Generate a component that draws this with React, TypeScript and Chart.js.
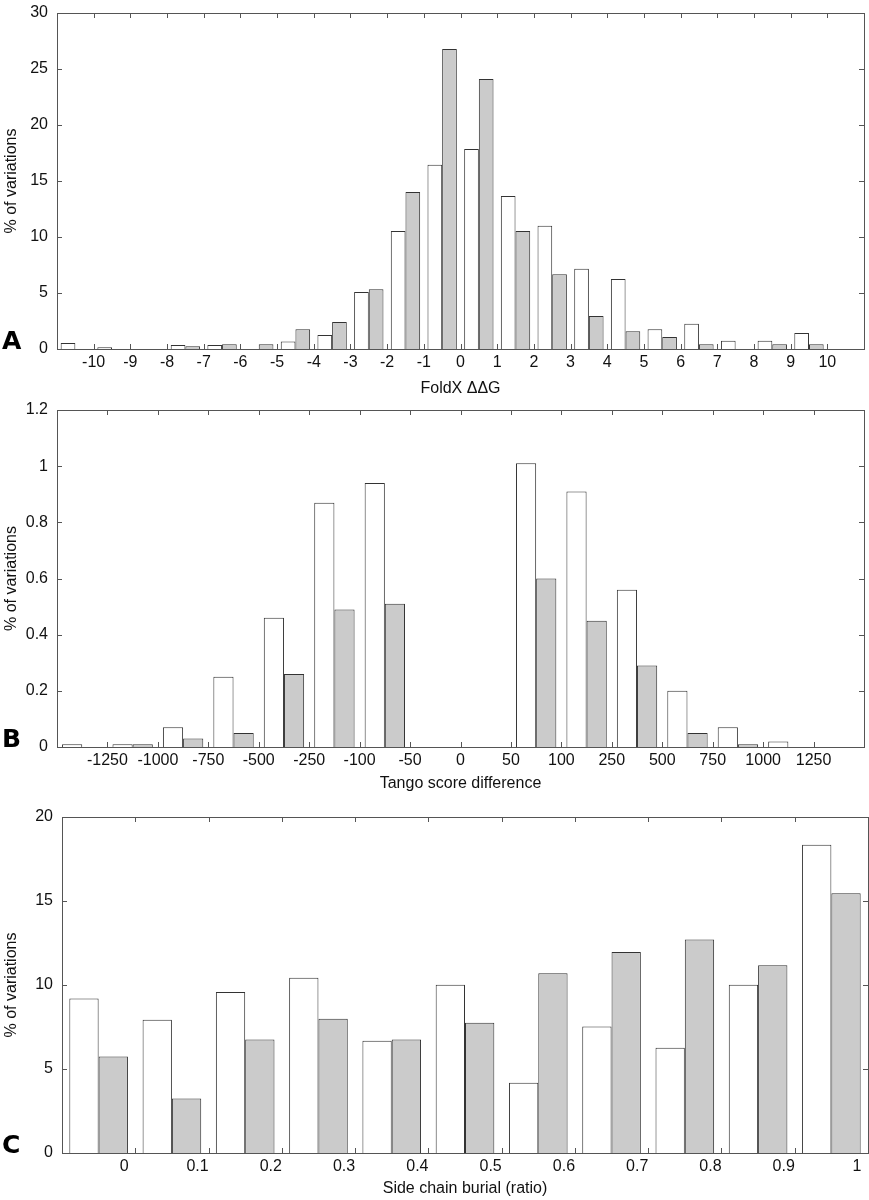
import React, { useEffect, useRef } from "react";
import { Chart, registerables } from "chart.js";

Chart.register(...registerables);

// ---------- Panel A: FoldX ΔΔG ----------
const foldxTickLabels = ["-10", "-9", "-8", "-7", "-6", "-5", "-4", "-3", "-2", "-1", "0", "1", "2", "3", "4", "5", "6", "7", "8", "9", "10"];
const foldxWhite = [0.54, 0.15, 0, 0.36, 0.36, 0, 0.68, 1.25, 5.09, 10.54, 16.46, 17.86, 13.66, 11.0, 7.17, 6.25, 1.76, 2.26, 0.74, 0.74, 1.43, 0];
const foldxGray = [0, 0, 0, 0.24, 0.42, 0.42, 1.76, 2.41, 5.33, 14.02, 26.79, 24.1, 10.54, 6.67, 2.95, 1.58, 1.07, 0.42, 0, 0.42, 0.42, 0];

// ---------- Panel B: Tango score difference ----------
const tangoTickLabels = ["-1250", "-1000", "-750", "-500", "-250", "-100", "-50", "0", "50", "100", "250", "500", "750", "1000", "1250"];
const tangoWhite = [0.01, 0.01, 0.07, 0.25, 0.46, 0.87, 0.94, 0, 0, 1.01, 0.91, 0.56, 0.2, 0.07, 0.02, 0];
const tangoGray = [0, 0.01, 0.03, 0.05, 0.26, 0.49, 0.51, 0, 0, 0.6, 0.45, 0.29, 0.05, 0.01, 0, 0];

// ---------- Panel C: Side chain burial ----------
const burialTickLabels = ["0", "0.1", "0.2", "0.3", "0.4", "0.5", "0.6", "0.7", "0.8", "0.9", "1"];
const burialWhite = [9.2, 7.93, 9.59, 10.43, 6.68, 10.01, 4.18, 7.53, 6.26, 10.01, 18.35];
const burialGray = [5.75, 3.25, 6.76, 7.99, 6.76, 7.75, 10.7, 11.97, 12.71, 11.18, 15.46];

const FONT = '"Liberation Sans", Arial, Helvetica, sans-serif';
const FS = 16;
const W = 869;

const framePlugin = {
  id: "frame",
  afterDatasetsDraw(chart: any) {
    const { ctx, chartArea } = chart;
    const { left, right, top, bottom } = chartArea;
    const xs = chart.scales.x;
    const ys = chart.scales.y;
    const tl = 5;
    ctx.save();
    ctx.strokeStyle = "#555555";
    ctx.lineWidth = 1;
    ctx.beginPath();
    xs.ticks.forEach((t: any) => {
      const px = Math.round(xs.getPixelForValue(t.value)) + 0.5;
      if (px < left + 2 || px > right - 2) return;
      ctx.moveTo(px, bottom);
      ctx.lineTo(px, bottom - tl);
      ctx.moveTo(px, top);
      ctx.lineTo(px, top + tl);
    });
    ys.ticks.forEach((t: any) => {
      const py = Math.round(ys.getPixelForValue(t.value)) + 0.5;
      if (py < top + 2 || py > bottom - 2) return;
      ctx.moveTo(left, py);
      ctx.lineTo(left + tl, py);
      ctx.moveTo(right, py);
      ctx.lineTo(right - tl, py);
    });
    ctx.stroke();
    ctx.strokeRect(Math.round(left) + 0.5, Math.round(top) + 0.5, Math.round(right - left), Math.round(bottom - top));
    ctx.restore();
  },
  afterDraw(chart: any, _args: any, opts: any) {
    const { ctx, chartArea } = chart;
    if (!opts || !opts.letter) return;
    ctx.save();
    ctx.fillStyle = "#000";
    ctx.font = 'bold 25px "DejaVu Sans", "Liberation Sans", sans-serif';
    ctx.textBaseline = "alphabetic";
    ctx.textAlign = "left";
    ctx.fillText(opts.letter, 2, chartArea.bottom);
    ctx.restore();
  },
};

type PanelProps = {
  top: number;
  height: number;
  left: number;
  right: number;
  plotBottom: number;
  tickLabels: string[];
  white: number[];
  gray: number[];
  yMax: number;
  yStep: number;
  xTitle: string;
  letter: string;
  titlePadBottom: number;
  labelOffset: number;
};

function Panel(p: PanelProps) {
  const ref = useRef<HTMLCanvasElement | null>(null);
  useEffect(() => {
    if (!ref.current) return;
    const nBins = p.white.length;
    const chart = new Chart(ref.current, {
      type: "bar",
      data: {
        datasets: [
          {
            data: p.white.map((v, i) => ({ x: i + 0.5, y: v })),
            backgroundColor: "#ffffff",
            borderColor: "#333333",
            borderWidth: 1,
            categoryPercentage: 0.8,
            barPercentage: 1.0,
          },
          {
            data: p.gray.map((v, i) => ({ x: i + 0.5, y: v })),
            backgroundColor: "#cbcbcb",
            borderColor: "#333333",
            borderWidth: 1,
            categoryPercentage: 0.8,
            barPercentage: 1.0,
          },
        ],
      },
      options: {
        animation: false,
        responsive: false,
        maintainAspectRatio: false,
        layout: { padding: { top: 13, left: 0, right: W - p.right, bottom: 0 } },
        plugins: {
          legend: { display: false },
          tooltip: { enabled: false },
          frame: { letter: p.letter },
        } as any,
        scales: {
          x: {
            type: "linear",
            offset: false,
            min: 0,
            max: nBins,
            grid: { display: false, drawTicks: false, offset: false },
            border: { display: false },
            afterBuildTicks: (scale: any) => {
              scale.ticks = p.tickLabels.map((_, i) => ({ value: i + 1 }));
            },
            afterFit: (scale: any) => {
              scale.height = p.height - p.plotBottom;
              scale.paddingLeft = 0;
              scale.paddingRight = 0;
            },
            ticks: {
              autoSkip: false,
              maxRotation: 0,
              minRotation: 0,
              padding: 4,
              labelOffset: p.labelOffset,
              color: "#111",
              font: { family: FONT, size: FS },
              callback: (_v: any, i: number) => p.tickLabels[i],
            },
            title: {
              display: true,
              text: p.xTitle,
              color: "#111",
              font: { family: FONT, size: FS },
              padding: { top: 0, bottom: p.titlePadBottom },
            },
          },
          y: {
            type: "linear",
            min: 0,
            max: p.yMax,
            grid: { display: false, drawTicks: false },
            border: { display: false },
            afterFit: (scale: any) => {
              scale.width = p.left;
              scale.paddingTop = 0;
              scale.paddingBottom = 0;
            },
            ticks: {
              stepSize: p.yStep,
              padding: 9,
              color: "#111",
              font: { family: FONT, size: FS },
              callback: (v: any) => String(Math.round(Number(v) * 100) / 100),
            },
            title: {
              display: true,
              text: "% of variations",
              color: "#111",
              font: { family: FONT, size: FS },
              padding: { top: 2, bottom: 0 },
            },
          },
        },
      } as any,
      plugins: [framePlugin as any],
    });
    return () => chart.destroy();
  }, []);
  return (
    <canvas
      ref={ref}
      width={W}
      height={p.height}
      style={{ position: "absolute", left: 0, top: p.top, width: W, height: p.height, display: "block" }}
    />
  );
}

export default function App() {
  return (
    <div style={{ position: "absolute", left: 0, top: 0, width: W, height: 1200, background: "#fff", overflow: "hidden" }}>
      <Panel
        top={0}
        height={400}
        left={57}
        right={864}
        plotBottom={349}
        tickLabels={foldxTickLabels}
        white={foldxWhite}
        gray={foldxGray}
        yMax={30}
        yStep={5}
        xTitle="FoldX ΔΔG"
        letter="A"
        titlePadBottom={2}
        labelOffset={0}
      />
      <Panel
        top={397}
        height={400}
        left={57}
        right={864}
        plotBottom={350}
        tickLabels={tangoTickLabels}
        white={tangoWhite}
        gray={tangoGray}
        yMax={1.2}
        yStep={0.2}
        xTitle="Tango score difference"
        letter="B"
        titlePadBottom={4}
        labelOffset={0}
      />
      <Panel
        top={804}
        height={396}
        left={62}
        right={868}
        plotBottom={349}
        tickLabels={burialTickLabels}
        white={burialWhite}
        gray={burialGray}
        yMax={20}
        yStep={5}
        xTitle="Side chain burial (ratio)"
        letter="C"
        titlePadBottom={2}
        labelOffset={-11}
      />
    </div>
  );
}
